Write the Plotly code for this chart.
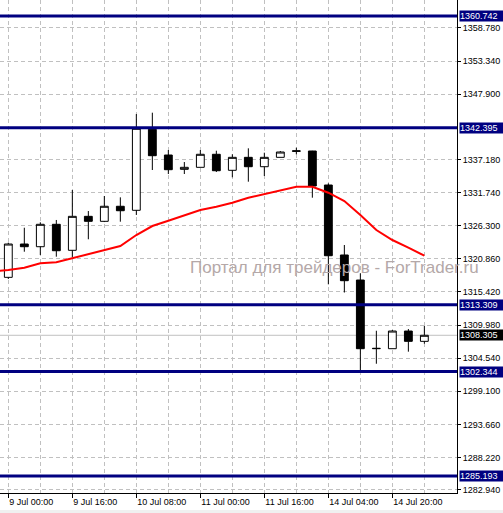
"""
Графік XAUUSD H4 з рівнями підтримки/опору та ковзною середньою
"""
import plotly.graph_objects as go

# Підписи часу на осі X (індекс свічки -> мітка)
time_labels = ['9 Jul 00:00', '9 Jul 16:00', '10 Jul 08:00', '11 Jul 00:00',
               '11 Jul 16:00', '14 Jul 04:00', '14 Jul 20:00']
label_index = [0, 4, 8, 12, 16, 20, 24]
grid_index = list(range(0, 29, 2))

# OHLC свічок H4
open_ = [1317.82, 1323.29, 1322.85, 1326.53, 1322.26, 1327.84, 1327.02, 1329.49, 1328.83,
         1342.13, 1337.91, 1335.56, 1335.89, 1338.03, 1335.40, 1337.53, 1335.99, 1337.53,
         1338.50, 1338.57, 1332.98, 1321.49, 1317.38, 1306.10, 1306.10, 1309.00, 1307.31]
high = [1323.51, 1325.97, 1326.86, 1327.24, 1332.16, 1328.71, 1331.18, 1330.96, 1344.64,
        1344.86, 1338.73, 1336.76, 1338.73, 1338.62, 1338.03, 1339.01, 1338.29, 1338.57,
        1339.11, 1338.60, 1333.26, 1323.13, 1318.48, 1309.05, 1309.17, 1309.33, 1309.83]
low = [1317.55, 1322.03, 1321.49, 1321.21, 1321.11, 1324.07, 1326.90, 1326.96, 1328.06,
       1335.45, 1334.79, 1334.79, 1335.89, 1335.12, 1334.25, 1333.53, 1334.46, 1337.53,
       1338.03, 1330.90, 1316.67, 1315.33, 1302.34, 1303.63, 1306.10, 1305.61, 1306.92]
close = [1323.29, 1322.85, 1326.53, 1322.19, 1327.84, 1327.02, 1329.49, 1328.76, 1342.30,
         1337.80, 1335.50, 1335.89, 1338.03, 1335.33, 1337.53, 1335.99, 1337.53, 1338.40,
         1338.60, 1332.82, 1321.37, 1317.27, 1306.10, 1306.15, 1309.00, 1307.31, 1308.305]

# Ковзна середня (починається з попередньої свічки за межами екрана)
ma_index = list(range(-1, 27))
ma_values = [1318.79, 1319.02, 1319.40, 1320.12, 1320.29, 1320.94, 1321.60, 1322.31, 1322.96,
             1324.77, 1326.25, 1327.12, 1328.06, 1328.88, 1329.42, 1330.08, 1330.90, 1331.51,
             1332.16, 1332.70, 1332.70, 1331.72, 1330.36, 1328.06, 1325.59, 1323.95, 1322.69,
             1321.37]

# Горизонтальні рівні та поточна ціна
level_lines = [1360.742, 1342.395, 1313.309, 1302.344, 1285.193]
last_price = 1308.305

# Мітки шкали цін
price_ticks = [1358.780, 1353.340, 1347.900, 1337.180, 1331.740, 1326.300, 1320.860,
               1315.420, 1309.980, 1304.540, 1299.100, 1293.660, 1288.220, 1282.940]

FONT = 'Liberation Sans, Arial, sans-serif'
GRID = '#c0c0c0'
NAVY = '#000080'

candle_x = list(range(len(open_)))

fig = go.Figure()
fig.add_trace(go.Candlestick(
    x=candle_x,
    open=open_, high=high, low=low, close=close,
    increasing=dict(line=dict(color='black', width=1), fillcolor='white'),
    decreasing=dict(line=dict(color='black', width=1), fillcolor='black'),
    whiskerwidth=0,
    showlegend=False,
    hoverinfo='skip'
))
fig.add_trace(go.Scatter(
    x=ma_index,
    y=ma_values,
    mode='lines',
    line=dict(color='#ff0000', width=2),
    showlegend=False,
    hoverinfo='skip'
))

shapes = []
# лінія поточної ціни
shapes.append(dict(type='line', xref='paper', x0=0, x1=1, yref='y', y0=last_price, y1=last_price,
                   line=dict(color='#c0c0c0', width=1), layer='below'))
for lvl in level_lines:
    shapes.append(dict(type='line', xref='paper', x0=0, x1=1, yref='y', y0=lvl, y1=lvl,
                       line=dict(color=NAVY, width=3)))
# сіра смуга внизу вікна
shapes.append(dict(type='rect', xref='paper', x0=-0.01, x1=1.2, yref='paper', y0=-0.0345, y1=-0.06,
                   fillcolor='#f0f0f0', line=dict(width=0)))

annotations = []
for lvl in level_lines:
    annotations.append(dict(
        xref='paper', x=1, xanchor='left', xshift=2,
        yref='y', y=lvl, yanchor='middle',
        text=f'{lvl:.3f}', showarrow=False,
        font=dict(family=FONT, size=9, color='white'),
        bgcolor=NAVY, borderpad=0, width=44, height=10, align='left'
    ))
annotations.append(dict(
    xref='paper', x=1, xanchor='left', xshift=2,
    yref='y', y=last_price, yanchor='middle',
    text=f'{last_price:.3f}', showarrow=False,
    font=dict(family=FONT, size=9, color='white'),
    bgcolor='black', borderpad=0, width=44, height=10, align='left'
))
# водяний знак
annotations.append(dict(
    xref='paper', x=0.411, xanchor='left',
    yref='paper', y=0.458, yanchor='middle',
    text='Портал для трейдеров - ForTrader.ru', showarrow=False,
    font=dict(family=FONT, size=17, color='rgb(180,168,168)')
))

fig.update_layout(
    width=503,
    height=513,
    margin=dict(l=0, r=46, t=0, b=20, pad=0),
    paper_bgcolor='white',
    plot_bgcolor='white',
    font=dict(family=FONT, size=9, color='black'),
    showlegend=False,
    shapes=shapes,
    annotations=annotations,
    xaxis=dict(
        range=[-0.52, 28.04],
        tickmode='array', tickvals=label_index, ticktext=time_labels,
        ticks='outside', ticklen=4, tickcolor='black',
        ticklabelposition='outside right',
        showline=True, linecolor='black', linewidth=1,
        showgrid=True, gridcolor=GRID, griddash='4px,3px', gridwidth=1,
        minor=dict(tickmode='array', tickvals=grid_index, showgrid=True,
                   gridcolor=GRID, griddash='4px,3px', gridwidth=1, ticks=''),
        zeroline=False,
        rangeslider=dict(visible=False),
        automargin=False,
        tickfont=dict(family=FONT, size=9, color='black')
    ),
    yaxis=dict(
        side='right',
        range=[1282.40, 1363.37],
        tickmode='array', tickvals=price_ticks, ticktext=[f'{v:.3f}' for v in price_ticks],
        ticks='outside', ticklen=3, tickcolor='black',
        showline=True, linecolor='black', linewidth=1,
        showgrid=True, gridcolor=GRID, griddash='4px,3px', gridwidth=1,
        zeroline=False,
        automargin=False,
        tickfont=dict(family=FONT, size=9, color='black')
    )
)

# прибираємо стандартний відступ сторінки, щоб графік займав усе вікно
fig.write_html("out.html", config={'displayModeBar': False},
               post_script="document.body.style.margin='0px';")
